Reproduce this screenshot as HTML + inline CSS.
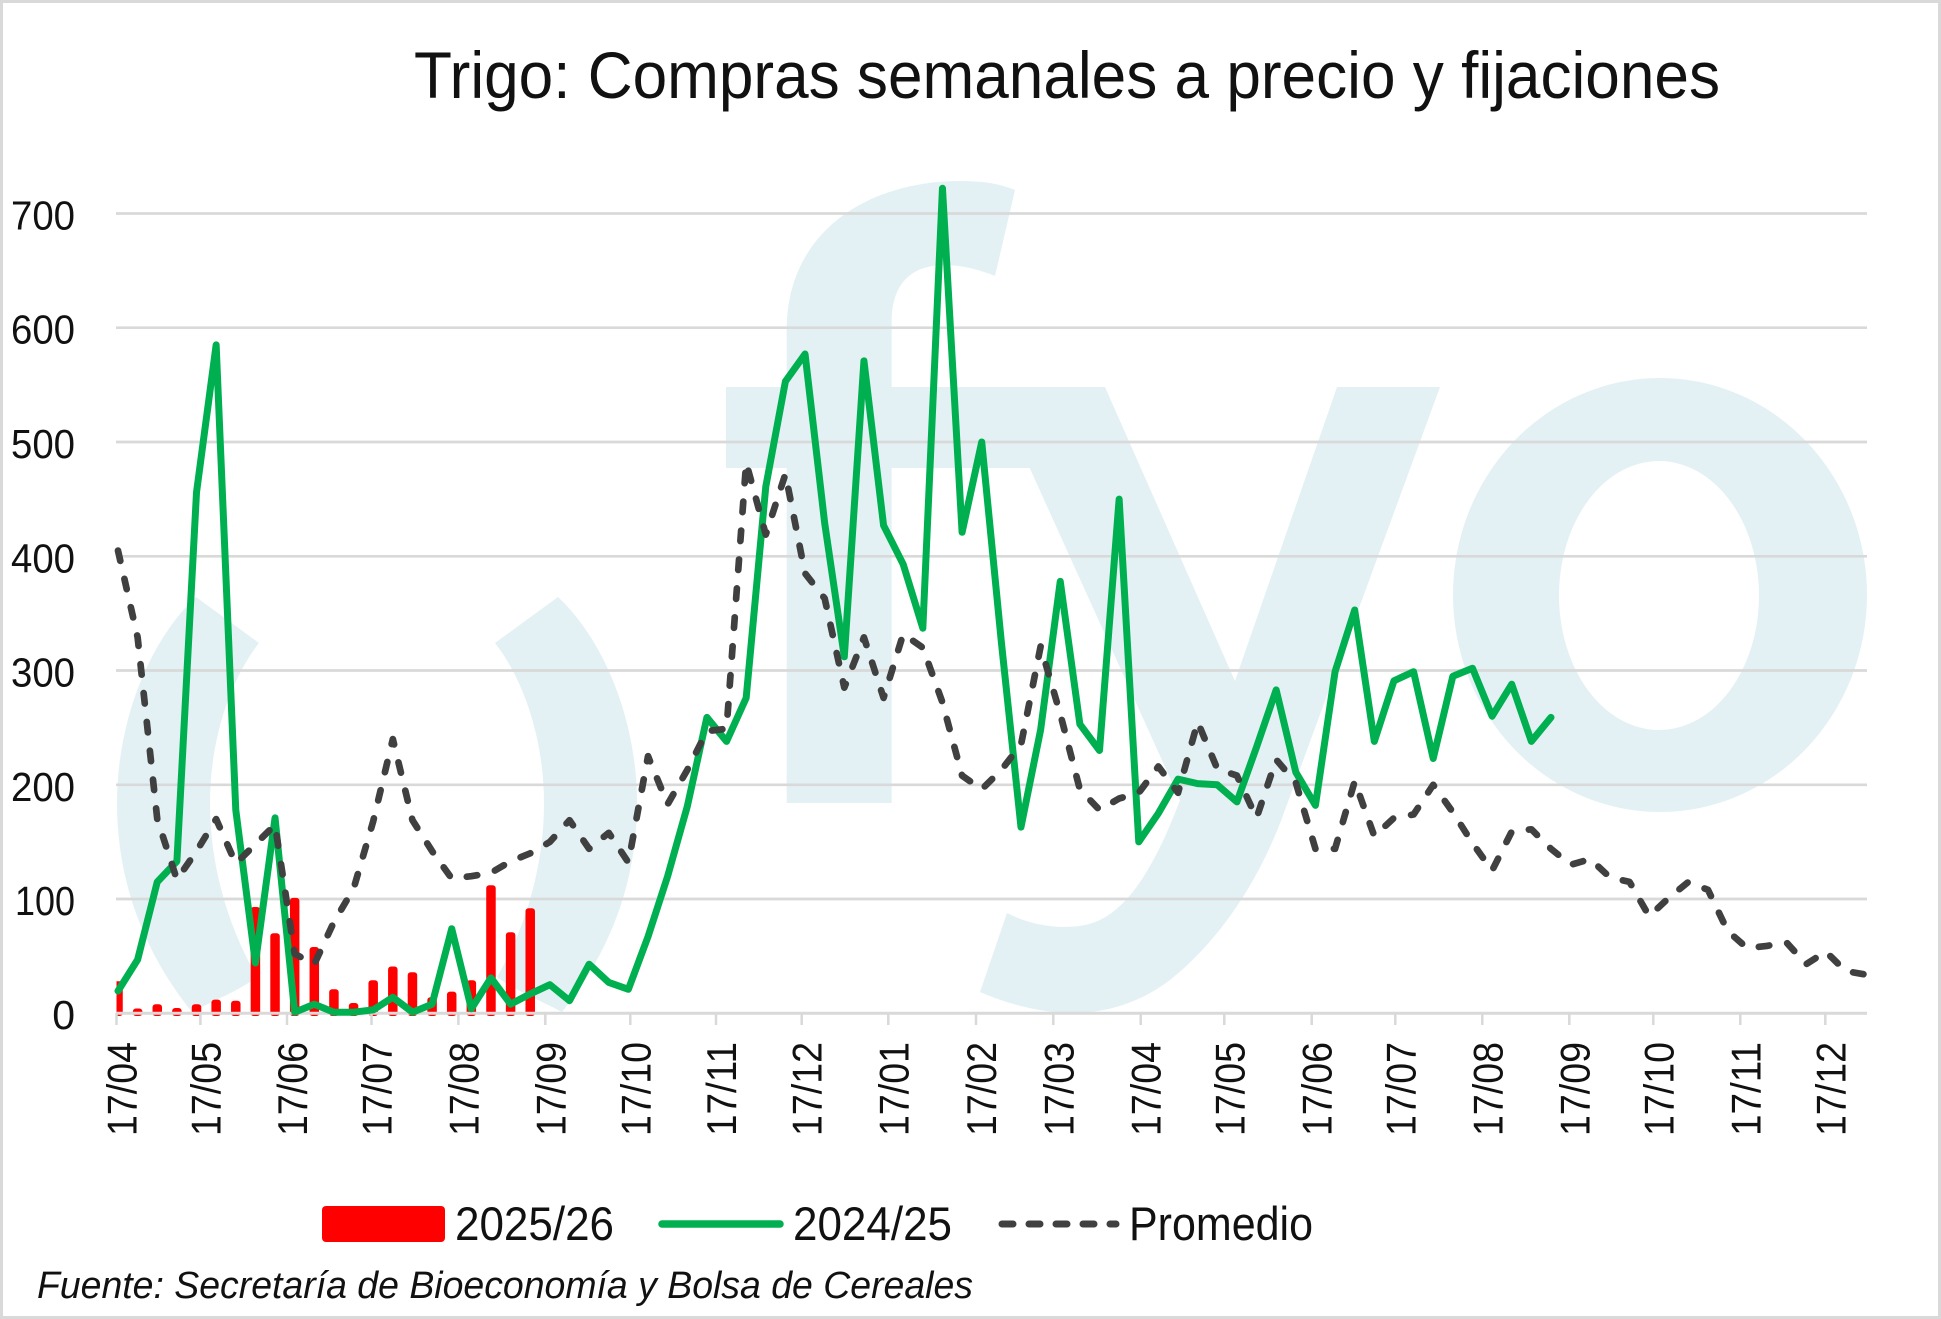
<!DOCTYPE html>
<html><head><meta charset="utf-8"><style>
html,body{margin:0;padding:0;background:#fff;}
svg{display:block}
</style></head><body>
<svg width="1941" height="1319" viewBox="0 0 1941 1319" xmlns="http://www.w3.org/2000/svg" font-family="'Liberation Sans', sans-serif">
<rect x="0" y="0" width="1941" height="1319" fill="#fff"/>
<rect x="1.5" y="1.5" width="1938" height="1316" fill="none" stroke="#d9d9d9" stroke-width="3"/>
<defs>
<clipPath id="pa"><rect x="116" y="150" width="1751" height="863.3"/></clipPath>
<clipPath id="pb"><rect x="116.5" y="0" width="1751" height="1319"/></clipPath>
</defs>
<!-- watermark -->
<g clip-path="url(#pa)" fill="#e3f1f5">
<path d="M196,597 C150,640 117,720 117,803 C117,890 150,960 192,1012 C215,1000 240,990 257,977 C230,930 210,870 210,803 C210,740 230,680 259,643 Z"/>
<path d="M558,597 C604,640 637,720 637,803 C637,890 604,960 562,1012 C539,1000 514,990 497,977 C524,930 544,870 544,803 C544,740 524,680 495,643 Z"/>
<path d="M786.7,803 L786.7,468 L726,468 L726,387 L786.7,387 L786.7,330 C786.7,230 870,181 960,181 C985,181 1000,184 1015,190 L995,276 C980,270 962,265 945,265 C910,265 891.7,285 891.7,322 L891.7,387 L1000,387 L1030,468 L891.7,468 L891.7,803 Z"/>
<path d="M993,387 L1105,387 L1235,681 L1337,387 L1440,387 L1285,810 C1260,880 1220,940 1170,980 C1140,1003 1105,1013 1073,1013 C1040,1013 1005,1003 980,992 L1007,913 C1030,925 1060,930 1085,925 C1120,918 1150,880 1180,800 Z"/>
<path fill-rule="evenodd" d="M1453,595 a207,217 0 1,0 414,0 a207,217 0 1,0 -414,0 Z M1559,595.5 a100,134.5 0 1,0 200,0 a100,134.5 0 1,0 -200,0 Z"/>
</g>
<!-- gridlines -->
<g stroke="#d9d9d9" stroke-width="2.7">
<line x1="116" y1="899" x2="1867" y2="899"/>
<line x1="116" y1="784.8" x2="1867" y2="784.8"/>
<line x1="116" y1="670.5" x2="1867" y2="670.5"/>
<line x1="116" y1="556.3" x2="1867" y2="556.3"/>
<line x1="116" y1="442" x2="1867" y2="442"/>
<line x1="116" y1="327.7" x2="1867" y2="327.7"/>
<line x1="116" y1="213.5" x2="1867" y2="213.5"/>
</g>
<!-- bars -->
<g clip-path="url(#pb)" fill="#ff0000">
<rect x="113.25" y="981.3" width="9.5" height="34.7" rx="3"/>
<rect x="132.88" y="1008.5" width="9.5" height="7.5" rx="3"/>
<rect x="152.51" y="1004.2" width="9.5" height="11.8" rx="3"/>
<rect x="172.14" y="1008" width="9.5" height="8" rx="3"/>
<rect x="191.77" y="1004.2" width="9.5" height="11.8" rx="3"/>
<rect x="211.4" y="999.6" width="9.5" height="16.4" rx="3"/>
<rect x="231.03" y="1000.7" width="9.5" height="15.3" rx="3"/>
<rect x="250.66" y="907" width="9.5" height="109" rx="3"/>
<rect x="270.29" y="933.3" width="9.5" height="82.7" rx="3"/>
<rect x="289.92" y="897.9" width="9.5" height="118.1" rx="3"/>
<rect x="309.55" y="947" width="9.5" height="69" rx="3"/>
<rect x="329.18" y="989.3" width="9.5" height="26.7" rx="3"/>
<rect x="348.81" y="1003" width="9.5" height="13" rx="3"/>
<rect x="368.44" y="980.2" width="9.5" height="35.8" rx="3"/>
<rect x="388.07" y="966.5" width="9.5" height="49.5" rx="3"/>
<rect x="407.7" y="972.2" width="9.5" height="43.8" rx="3"/>
<rect x="427.33" y="997.3" width="9.5" height="18.7" rx="3"/>
<rect x="446.96" y="991.6" width="9.5" height="24.4" rx="3"/>
<rect x="466.59" y="980.2" width="9.5" height="35.8" rx="3"/>
<rect x="486.22" y="885.3" width="9.5" height="130.7" rx="3"/>
<rect x="505.85" y="932.2" width="9.5" height="83.8" rx="3"/>
<rect x="525.48" y="908.2" width="9.5" height="107.8" rx="3"/>
</g>
<!-- axis -->
<g stroke="#d9d9d9" stroke-width="2.5">
<line x1="116" y1="1013.3" x2="1867" y2="1013.3" stroke-width="3"/>
<line x1="116.5" y1="1013" x2="116.5" y2="1025"/>
<line x1="200.4" y1="1013" x2="200.4" y2="1025"/>
<line x1="287" y1="1013" x2="287" y2="1025"/>
<line x1="371.5" y1="1013" x2="371.5" y2="1025"/>
<line x1="458.4" y1="1013" x2="458.4" y2="1025"/>
<line x1="545.3" y1="1013" x2="545.3" y2="1025"/>
<line x1="630.3" y1="1013" x2="630.3" y2="1025"/>
<line x1="716" y1="1013" x2="716" y2="1025"/>
<line x1="801.7" y1="1013" x2="801.7" y2="1025"/>
<line x1="888.3" y1="1013" x2="888.3" y2="1025"/>
<line x1="976" y1="1013" x2="976" y2="1025"/>
<line x1="1053.3" y1="1013" x2="1053.3" y2="1025"/>
<line x1="1140.7" y1="1013" x2="1140.7" y2="1025"/>
<line x1="1224.3" y1="1013" x2="1224.3" y2="1025"/>
<line x1="1311.7" y1="1013" x2="1311.7" y2="1025"/>
<line x1="1395.3" y1="1013" x2="1395.3" y2="1025"/>
<line x1="1482.3" y1="1013" x2="1482.3" y2="1025"/>
<line x1="1569.3" y1="1013" x2="1569.3" y2="1025"/>
<line x1="1653.3" y1="1013" x2="1653.3" y2="1025"/>
<line x1="1740.3" y1="1013" x2="1740.3" y2="1025"/>
<line x1="1825.3" y1="1013" x2="1825.3" y2="1025"/>
</g>
<!-- series lines -->
<polyline fill="none" stroke="#00b050" stroke-width="7" stroke-linejoin="round" stroke-linecap="round" points="118,991 137.63,959.6 157.26,881.9 176.89,861.3 196.52,492.3 216.15,344.9 235.78,809.9 255.41,963 275.04,817.9 294.67,1012.2 314.3,1004.2 333.93,1012.2 353.56,1012.2 373.19,1009.9 392.82,997.3 412.45,1012.2 432.08,1004.2 451.71,928.7 471.34,1008.7 490.97,977.9 510.6,1004.2 530.23,993.9 549.86,984.7 569.49,1000.7 589.12,964.2 608.75,982.4 628.38,989.3 648.01,936.7 667.64,876.2 687.27,806.5 706.9,717.4 726.53,741.4 746.16,697.9 765.79,486.6 785.42,381.4 805.05,354 824.68,523.1 844.31,656.8 863.94,360.9 883.57,525.4 903.2,564.3 922.83,628.2 942.46,188.3 962.09,532.3 981.72,442 1001.35,642 1020.98,827.1 1040.61,729.9 1060.24,581.4 1079.87,724.2 1099.5,750.5 1119.13,499.1 1138.76,841.9 1158.39,813.3 1178.02,779.1 1197.65,783.6 1217.28,784.8 1236.91,801.9 1256.54,747.1 1276.17,689.9 1295.8,772.2 1315.43,805.4 1335.06,671.7 1354.69,610 1374.32,741.4 1393.95,680.8 1413.58,671.7 1433.21,758.5 1452.84,676.2 1472.47,668.2 1492.1,716.2 1511.73,684.2 1531.36,741.4 1550.99,717.4"/>
<polyline fill="none" stroke="#404040" stroke-width="6.7" stroke-linejoin="round" stroke-linecap="round" stroke-dasharray="10.5 18.5" points="118,550.6 137.63,637.4 157.26,819.1 176.89,879.6 196.52,851.1 216.15,819.1 235.78,863.6 255.41,844.2 275.04,824.8 294.67,953.9 314.3,964.2 333.93,921.9 353.56,888.8 373.19,821.3 392.82,739.1 412.45,820.2 432.08,851.1 451.71,878.5 471.34,876.2 490.97,872.8 510.6,861.3 530.23,853.3 549.86,841.9 569.49,820.2 589.12,848.8 608.75,832.8 628.38,862.5 648.01,756.2 667.64,804.2 687.27,769.9 706.9,731.1 726.53,728.8 746.16,462.6 765.79,534.6 785.42,474 805.05,573.4 824.68,598.5 844.31,687.7 863.94,637.4 883.57,697.9 903.2,634 922.83,647.7 942.46,702.5 962.09,775.6 981.72,789.4 1001.35,769.9 1020.98,744.8 1040.61,646.5 1060.24,713.9 1079.87,789.4 1099.5,809.9 1119.13,798.5 1138.76,792.8 1158.39,766.5 1178.02,792.8 1197.65,721.9 1217.28,768.8 1236.91,775.6 1256.54,817.9 1276.17,759.6 1295.8,782.5 1315.43,848.8 1335.06,848.8 1354.69,781.3 1374.32,836.2 1393.95,817.9 1413.58,814.5 1433.21,784.8 1452.84,812.2 1472.47,843.1 1492.1,870.5 1511.73,831.6 1531.36,829.3 1550.99,848.8 1570.62,864.8 1590.25,859.1 1609.88,877.3 1629.51,881.9 1649.14,916.2 1668.77,897.9 1688.4,881.9 1708.03,889.9 1727.66,931 1747.29,948.2 1766.92,945.9 1786.55,942.5 1806.18,964.2 1825.81,951.6 1845.44,971 1865.07,974.5"/>
<!-- y labels -->
<g font-size="41" fill="#111" text-anchor="end">
<text x="75" y="1029">0</text>
<text x="75" y="915" textLength="60" lengthAdjust="spacingAndGlyphs">100</text>
<text x="75" y="800.8" textLength="64" lengthAdjust="spacingAndGlyphs">200</text>
<text x="75" y="686.5" textLength="64" lengthAdjust="spacingAndGlyphs">300</text>
<text x="75" y="572.3" textLength="64" lengthAdjust="spacingAndGlyphs">400</text>
<text x="75" y="458" textLength="64" lengthAdjust="spacingAndGlyphs">500</text>
<text x="75" y="343.7" textLength="64" lengthAdjust="spacingAndGlyphs">600</text>
<text x="75" y="229.5" textLength="64" lengthAdjust="spacingAndGlyphs">700</text>
</g>
<!-- x labels -->
<g font-size="42" fill="#111" text-anchor="end">
<text transform="translate(136.5,1042) rotate(-90)" textLength="94" lengthAdjust="spacingAndGlyphs">17/04</text>
<text transform="translate(220.4,1042) rotate(-90)" textLength="94" lengthAdjust="spacingAndGlyphs">17/05</text>
<text transform="translate(307,1042) rotate(-90)" textLength="94" lengthAdjust="spacingAndGlyphs">17/06</text>
<text transform="translate(391.5,1042) rotate(-90)" textLength="94" lengthAdjust="spacingAndGlyphs">17/07</text>
<text transform="translate(478.4,1042) rotate(-90)" textLength="94" lengthAdjust="spacingAndGlyphs">17/08</text>
<text transform="translate(565.3,1042) rotate(-90)" textLength="94" lengthAdjust="spacingAndGlyphs">17/09</text>
<text transform="translate(650.3,1042) rotate(-90)" textLength="94" lengthAdjust="spacingAndGlyphs">17/10</text>
<text transform="translate(736,1042) rotate(-90)" textLength="94" lengthAdjust="spacingAndGlyphs">17/11</text>
<text transform="translate(821.7,1042) rotate(-90)" textLength="94" lengthAdjust="spacingAndGlyphs">17/12</text>
<text transform="translate(908.3,1042) rotate(-90)" textLength="94" lengthAdjust="spacingAndGlyphs">17/01</text>
<text transform="translate(996,1042) rotate(-90)" textLength="94" lengthAdjust="spacingAndGlyphs">17/02</text>
<text transform="translate(1073.3,1042) rotate(-90)" textLength="94" lengthAdjust="spacingAndGlyphs">17/03</text>
<text transform="translate(1160.7,1042) rotate(-90)" textLength="94" lengthAdjust="spacingAndGlyphs">17/04</text>
<text transform="translate(1244.3,1042) rotate(-90)" textLength="94" lengthAdjust="spacingAndGlyphs">17/05</text>
<text transform="translate(1331.7,1042) rotate(-90)" textLength="94" lengthAdjust="spacingAndGlyphs">17/06</text>
<text transform="translate(1415.3,1042) rotate(-90)" textLength="94" lengthAdjust="spacingAndGlyphs">17/07</text>
<text transform="translate(1502.3,1042) rotate(-90)" textLength="94" lengthAdjust="spacingAndGlyphs">17/08</text>
<text transform="translate(1589.3,1042) rotate(-90)" textLength="94" lengthAdjust="spacingAndGlyphs">17/09</text>
<text transform="translate(1673.3,1042) rotate(-90)" textLength="94" lengthAdjust="spacingAndGlyphs">17/10</text>
<text transform="translate(1760.3,1042) rotate(-90)" textLength="94" lengthAdjust="spacingAndGlyphs">17/11</text>
<text transform="translate(1845.3,1042) rotate(-90)" textLength="94" lengthAdjust="spacingAndGlyphs">17/12</text>
</g>
<!-- title -->
<text x="414" y="98" font-size="66" fill="#111" textLength="1306" lengthAdjust="spacingAndGlyphs">Trigo: Compras semanales a precio y fijaciones</text>
<!-- legend -->
<rect x="322" y="1206" width="123" height="36" rx="4" fill="#ff0000"/>
<text x="455" y="1240" font-size="47" fill="#111" textLength="159" lengthAdjust="spacingAndGlyphs">2025/26</text>
<line x1="662" y1="1224" x2="780" y2="1224" stroke="#00b050" stroke-width="7.5" stroke-linecap="round"/>
<text x="793" y="1240" font-size="47" fill="#111" textLength="159" lengthAdjust="spacingAndGlyphs">2024/25</text>
<line x1="1002" y1="1224" x2="1116" y2="1224" stroke="#404040" stroke-width="7" stroke-linecap="round" stroke-dasharray="11 16"/>
<text x="1129" y="1240" font-size="47" fill="#111" textLength="184" lengthAdjust="spacingAndGlyphs">Promedio</text>
<!-- source -->
<text x="37" y="1298" font-size="38" font-style="italic" fill="#111" textLength="936" lengthAdjust="spacingAndGlyphs">Fuente: Secretaría de Bioeconomía y Bolsa de Cereales</text>
</svg>
</body></html>
